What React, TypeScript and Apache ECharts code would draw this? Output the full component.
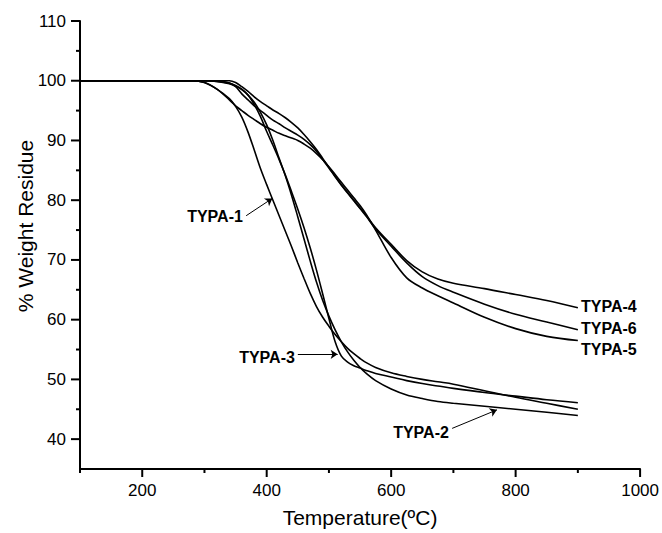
import React, { useEffect, useRef } from "react";
import * as echarts from "echarts";

// Temperature grid (°C) shared by all curves
const temps = [100, 280, 300, 320, 340, 350, 360, 370, 380, 390, 400, 410, 420, 430, 440, 450, 460, 470, 480, 490, 500, 510, 520, 530, 540, 550, 560, 575, 600, 625, 650, 675, 700, 750, 800, 850, 900];

// % weight residue for each sample
const typa1 = [100, 100, 99.7, 98.6, 97.0, 95.7, 93.9, 91.4, 88.4, 85.3, 82.6, 80.0, 77.4, 74.8, 72.2, 69.5, 66.9, 64.4, 62.2, 60.4, 58.9, 57.5, 56.3, 55.2, 54.3, 53.5, 52.8, 52.0, 51.1, 50.5, 50.0, 49.6, 49.2, 48.1, 47.0, 46.0, 45.0];
const typa2 = [100, 100, 100, 99.9, 99.5, 99.1, 98.5, 97.6, 96.4, 94.7, 92.6, 90.0, 87.0, 84.1, 80.8, 77.2, 73.5, 69.8, 66.3, 63.2, 60.6, 58.3, 56.3, 54.6, 53.2, 52.0, 51.0, 49.8, 48.4, 47.4, 46.8, 46.3, 46.0, 45.5, 45.0, 44.5, 43.95];
const typa3 = [100, 100, 100, 99.9, 99.6, 99.2, 98.6, 97.6, 96.0, 94.0, 91.5, 89.2, 86.8, 84.2, 81.4, 78.5, 75.4, 72.0, 68.3, 64.3, 60.2, 56.3, 53.9, 52.9, 52.3, 51.9, 51.5, 51.0, 50.4, 49.8, 49.3, 48.9, 48.5, 47.8, 47.2, 46.6, 46.1];
const typa4 = [100, 100, 100, 100, 100, 99.7, 99.0, 98.2, 97.3, 96.5, 95.8, 95.1, 94.5, 93.8, 93.0, 92.1, 91.0, 89.8, 88.5, 87.0, 85.5, 84.0, 82.6, 81.3, 80.0, 78.7, 77.4, 75.4, 72.6, 69.9, 68.0, 66.8, 66.1, 65.2, 64.2, 63.2, 62.0];
const typa5 = [100, 100, 99.7, 98.6, 96.8, 95.8, 95.0, 94.2, 93.5, 92.8, 92.2, 91.7, 91.2, 90.8, 90.4, 90.0, 89.4, 88.7, 87.8, 86.8, 85.6, 84.3, 83.0, 81.7, 80.4, 79.1, 77.6, 75.0, 70.4, 67.0, 65.3, 64.0, 62.8, 60.4, 58.5, 57.2, 56.5];
const typa6 = [100, 100, 100, 100, 99.6, 99.0, 97.8, 96.8, 95.8, 95.0, 94.2, 93.4, 92.8, 92.1, 91.5, 90.9, 90.2, 89.3, 88.2, 86.8, 85.4, 83.9, 82.5, 81.2, 79.9, 78.6, 77.3, 75.2, 72.3, 69.5, 67.2, 65.7, 64.6, 62.6, 60.9, 59.6, 58.3];

const seriesNames = ["TYPA-1", "TYPA-2", "TYPA-3", "TYPA-4", "TYPA-5", "TYPA-6"];
const seriesValues = [typa1, typa2, typa3, typa4, typa5, typa6];

// Axis ticks
const xMajorTicks = [200, 400, 600, 800, 1000];
const xMinorTicks = [100, 300, 500, 700, 900];
const yMajorTicks = [40, 50, 60, 70, 80, 90, 100, 110];
const yMinorTicks = [45, 55, 65, 75, 85, 95, 105];

// Annotation arrows: [label, fromT, fromW, toT, toW]
const arrows: [string, number, number, number, number][] = [
  ["TYPA-1", 367, 77.4, 409, 80.3],
  ["TYPA-3", 450, 54.2, 514, 54.2],
  ["TYPA-2", 698, 41.8, 770, 44.9],
];

const FONT = "'Liberation Sans', Arial, Helvetica, sans-serif";
const X_MIN = 100;
const Y_MIN = 35;

export default function App() {
  const ref = useRef<HTMLDivElement>(null);
  useEffect(() => {
    document.body.style.margin = "0";
    if (!ref.current) return;
    const chart = echarts.init(ref.current, undefined, { renderer: "svg" });
    const axisLine = { show: true, lineStyle: { color: "#000", width: 2 } };
    const series: any[] = seriesNames.map((name, i) => ({
      name,
      type: "line",
      data: temps.map((t, k) => [t, seriesValues[i][k]]),
      showSymbol: false,
      smooth: 0.35,
      lineStyle: { color: "#000", width: 1.6 },
    }));
    series[0].markLine = {
      silent: true,
      symbol: ["none", "arrow"],
      symbolSize: 7,
      label: { show: false },
      lineStyle: { color: "#000", width: 1, type: "solid" },
      data: arrows.map((a) => [
        { coord: [a[1], a[2]] },
        { coord: [a[3], a[4]] },
      ]),
    };
    chart.setOption({
      animation: false,
      backgroundColor: "#fff",
      grid: { left: 80, right: 20, top: 21, bottom: 60 },
      xAxis: {
        type: "value",
        min: X_MIN,
        max: 1000,
        interval: 100,
        axisLine,
        axisTick: { show: false },
        axisLabel: {
          color: "#000",
          fontSize: 17,
          fontFamily: FONT,
          margin: 13,
          formatter: (v: number) => (xMajorTicks.indexOf(v) >= 0 ? String(v) : ""),
        },
        splitLine: { show: false },
        name: "Temperature(ºC)",
        nameLocation: "middle",
        nameGap: 38,
        nameTextStyle: { color: "#000", fontSize: 21, fontFamily: FONT },
      },
      yAxis: {
        type: "value",
        min: Y_MIN,
        max: 110,
        interval: 5,
        axisLine,
        axisTick: { show: false },
        axisLabel: {
          color: "#000",
          fontSize: 17,
          fontFamily: FONT,
          margin: 14,
          formatter: (v: number) => (yMajorTicks.indexOf(v) >= 0 ? String(v) : ""),
        },
        splitLine: { show: false },
      },
      series,
    });

    // Outward tick marks, positioned through the chart's own axis scales
    const tickRect = (x: number, y: number, w: number, h: number) => ({
      type: "rect",
      silent: true,
      z: 100,
      shape: { x, y, width: w, height: h },
      style: { fill: "#000" },
    });
    const ticks: any[] = [];
    const xTick = (v: number, len: number) => {
      const p = chart.convertToPixel({ xAxisIndex: 0, yAxisIndex: 0 }, [v, Y_MIN]) as number[];
      ticks.push(tickRect(p[0] - 1, p[1], 2, len));
    };
    const yTick = (v: number, len: number) => {
      const p = chart.convertToPixel({ xAxisIndex: 0, yAxisIndex: 0 }, [X_MIN, v]) as number[];
      ticks.push(tickRect(p[0] - len, p[1] - 1, len, 2));
    };
    xMajorTicks.forEach((v) => xTick(v, 8));
    xMinorTicks.forEach((v) => xTick(v, 4));
    yMajorTicks.forEach((v) => yTick(v, 9));
    yMinorTicks.forEach((v) => yTick(v, 4));

    const labelText = (text: string, x: number, y: number, align: string) => ({
      type: "text",
      x,
      y,
      style: {
        text,
        font: `bold 16px ${FONT}`,
        fill: "#000",
        textAlign: align,
        textVerticalAlign: "middle",
      },
    });
    chart.setOption({
      graphic: [
        {
          type: "text",
          x: 25,
          y: 226,
          rotation: Math.PI / 2,
          style: {
            text: "% Weight Residue",
            font: `21px ${FONT}`,
            fill: "#000",
            textAlign: "center",
            textVerticalAlign: "middle",
          },
        },
        labelText("TYPA-1", 215, 216, "center"),
        labelText("TYPA-3", 267, 357, "center"),
        labelText("TYPA-2", 421, 432, "center"),
        labelText("TYPA-4", 581, 306, "left"),
        labelText("TYPA-6", 581, 328, "left"),
        labelText("TYPA-5", 581, 349, "left"),
        ...ticks,
      ],
    });
    return () => chart.dispose();
  }, []);
  return <div ref={ref} style={{ width: 662, height: 533 }} />;
}
